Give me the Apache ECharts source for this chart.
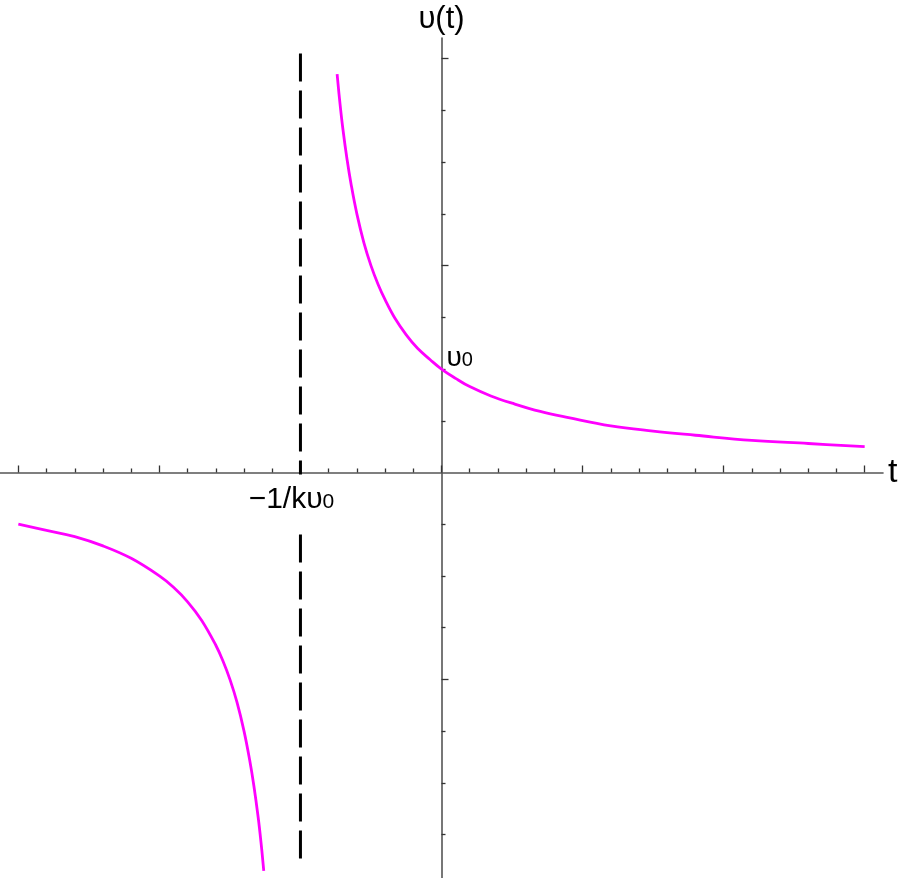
<!DOCTYPE html>
<html>
<head>
<meta charset="utf-8">
<script src="https://cdn.jsdelivr.net/npm/echarts@6/dist/echarts.min.js"></script>
<style>
  html, body { margin: 0; padding: 0; background: #fff; }
  #chart { width: 906px; height: 878px; }
</style>
</head>
<body>
<div id="chart"></div>
<script>
// values (t, u) with k*u0 = 1, u0 = 1
const leftBranch = [
  [-3.0, -0.5], [-2.8, -0.56], [-2.6, -0.62], [-2.4, -0.71], [-2.2, -0.83],
  [-2.0, -1.0], [-1.9, -1.11], [-1.8, -1.25], [-1.7, -1.43], [-1.6, -1.67],
  [-1.55, -1.82], [-1.5, -2.0], [-1.45, -2.22], [-1.4, -2.5], [-1.36, -2.78],
  [-1.33, -3.03], [-1.3, -3.33], [-1.28, -3.57], [-1.26, -3.85]
];
const rightBranch = [
  [-0.74, 3.85], [-0.72, 3.57], [-0.7, 3.33], [-0.67, 3.03], [-0.64, 2.78],
  [-0.6, 2.5], [-0.55, 2.22], [-0.5, 2.0], [-0.45, 1.82], [-0.4, 1.67],
  [-0.33, 1.49], [-0.25, 1.33], [-0.17, 1.2], [-0.08, 1.09], [0, 1.0],
  [0.1, 0.91], [0.2, 0.83], [0.35, 0.74], [0.5, 0.67], [0.7, 0.59],
  [0.9, 0.53], [1.2, 0.45], [1.5, 0.4], [1.8, 0.36], [2.2, 0.31],
  [2.6, 0.28], [3.0, 0.25]
];
const asymptoteTop = [[-1, 4.05], [-1, -0.02]];
const asymptoteBottom = [[-1, -0.6], [-1, -3.79]];
const u0Point = [0, 1];
const asymptoteLabelPoint = [-1, 0];

const xMajorTicks = [-3, -2, -1, 0, 1, 2, 3];
const xMinorTicks = [-2.8, -2.6, -2.4, -2.2, -1.8, -1.6, -1.4, -1.2, -0.8, -0.6, -0.4, -0.2,
  0.2, 0.4, 0.6, 0.8, 1.2, 1.4, 1.6, 1.8, 2.2, 2.4, 2.6, 2.8];
const yMajorTicks = [-2, 2, 4];
const yMinorTicks = [-3.5, -3, -2.5, -1.5, -1, -0.5, 0.5, 1, 1.5, 2.5, 3, 3.5];

const FONT = "'Liberation Sans', Arial, sans-serif";
const chart = echarts.init(document.getElementById("chart"));

function xAxisDef(ticks, len, withLine) {
  return {
    type: "value",
    min: -3.13,
    max: 3.13,
    position: "bottom",
    splitLine: { show: false },
    axisLabel: { show: false },
    axisLine: {
      show: withLine,
      onZero: true,
      onZeroAxisIndex: 0,
      lineStyle: { color: "#555", width: 1.6 },
    },
    axisTick: {
      show: true,
      inside: true,
      length: len,
      customValues: ticks,
      lineStyle: { color: "#333", width: 1.3 },
    },
  };
}
function yAxisDef(ticks, len, withLine) {
  return {
    type: "value",
    min: -3.92,
    max: 4.2,
    position: "left",
    splitLine: { show: false },
    axisLabel: { show: false },
    axisLine: {
      show: withLine,
      onZero: true,
      onZeroAxisIndex: 0,
      lineStyle: { color: "#555", width: 1.6 },
    },
    axisTick: {
      show: true,
      inside: true,
      length: len,
      customValues: ticks,
      lineStyle: { color: "#333", width: 1.3 },
    },
  };
}

const xMain = xAxisDef(xMajorTicks, 7, true);
xMain.name = "t";
xMain.nameLocation = "end";
xMain.nameGap = 5;
xMain.nameTextStyle = { fontFamily: FONT, fontSize: 34, color: "#000", verticalAlign: "middle", padding: [0, 0, 10, 0] };
const yMain = yAxisDef(yMajorTicks, 7, true);
yMain.name = "υ(t)";
yMain.nameLocation = "end";
yMain.nameGap = 3;
yMain.nameTextStyle = { fontFamily: FONT, fontSize: 31, color: "#000" };

const curveStyle = { color: "#ff00ff", width: 2.8 };
const dashStyle = { color: "#000", width: 3, type: [28, 9] };
const hiddenPoint = { symbol: "circle", symbolSize: 1, itemStyle: { color: "rgba(0,0,0,0)" } };

let option = {
  animation: false,
  backgroundColor: "#fff",
  grid: { left: 0, top: 38, width: 883, height: 840, containLabel: false },
  xAxis: [xMain, xAxisDef(xMinorTicks, 4, false)],
  yAxis: [yMain, yAxisDef(yMinorTicks, 4, false)],
  series: [
    {
      name: "asymptote-top",
      type: "line",
      data: asymptoteTop,
      showSymbol: false,
      lineStyle: dashStyle,
      z: 3,
    },
    {
      name: "asymptote-bottom",
      type: "line",
      data: asymptoteBottom,
      showSymbol: false,
      lineStyle: dashStyle,
      z: 3,
      markPoint: {
        ...hiddenPoint,
        data: [{ coord: asymptoteLabelPoint }],
        label: {
          show: true,
          position: "inside",
          offset: [-9, 27],
          formatter: "{a|−1/kυ}{s|0}",
          rich: {
            a: { fontFamily: FONT, fontSize: 30, color: "#000", verticalAlign: "bottom" },
            s: { fontFamily: FONT, fontSize: 21, color: "#000", verticalAlign: "bottom", padding: [0, 0, 2, 0] },
          },
        },
      },
    },
    {
      name: "left",
      type: "line",
      data: leftBranch,
      smooth: 0.4,
      showSymbol: false,
      lineStyle: curveStyle,
      z: 4,
    },
    {
      name: "right",
      type: "line",
      data: rightBranch,
      smooth: 0.4,
      showSymbol: false,
      lineStyle: curveStyle,
      z: 4,
      markPoint: {
        ...hiddenPoint,
        data: [{ coord: u0Point }],
        label: {
          show: true,
          position: "inside",
          align: "left",
          offset: [5, -11],
          formatter: "{a|υ}{s|0}",
          rich: {
            a: { fontFamily: FONT, fontSize: 28, color: "#000", verticalAlign: "bottom" },
            s: { fontFamily: FONT, fontSize: 20, color: "#000", verticalAlign: "bottom", padding: [0, 0, 2, 0] },
          },
        },
      },
    },
  ],
};
chart.setOption(option);
</script>
</body>
</html>
